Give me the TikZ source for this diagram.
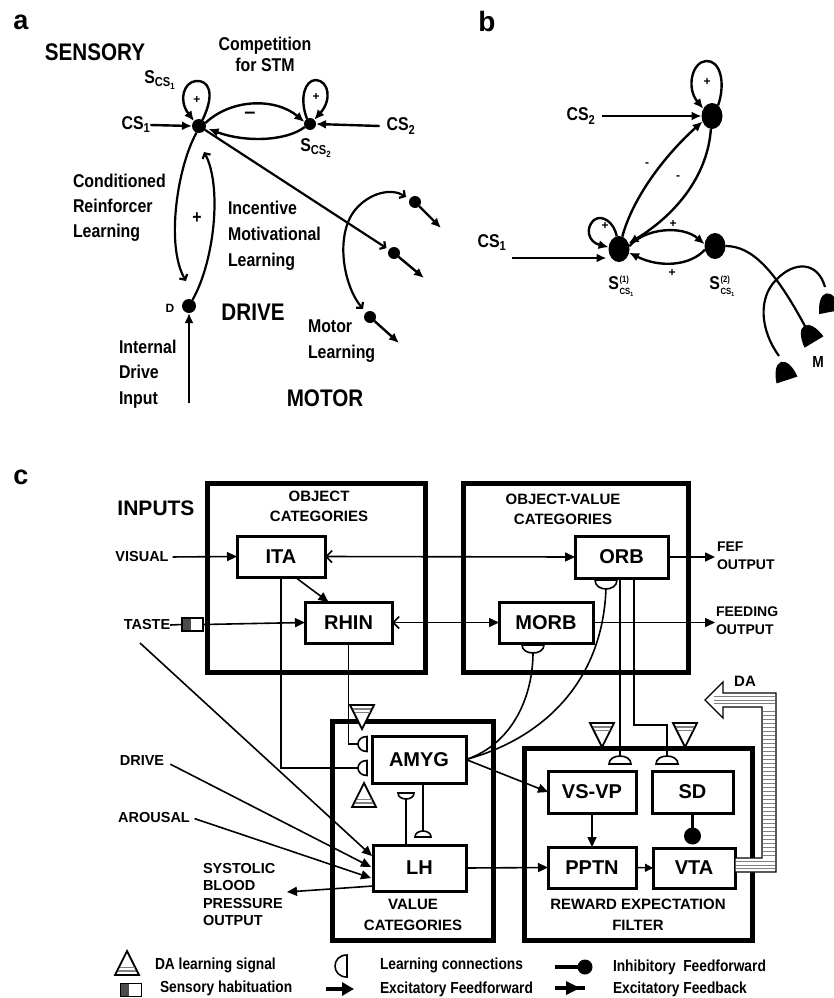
\documentclass[tikz,border=0pt]{standalone}
\usepackage{fontspec}
\setmainfont{Liberation Sans}
\newfontfamily\nar[FakeStretch=0.86]{Liberation Sans}
\usetikzlibrary{arrows.meta,calc,shapes.geometric}
\newcommand\lcup[5]{\draw[line width=1.6pt,fill=white,shift={(#1,#2)},rotate=#3] (-#4,0) .. controls (-#4,1.33*#5) and (#4,1.33*#5) .. (#4,0) -- cycle;}
\newcommand\datri[3]{%
  \draw[line width=1.8pt,line join=miter,fill=white] ({#1-12},{#2-24*(#3)}) -- ({#1+12},{#2-24*(#3)}) -- (#1,#2) -- cycle;
  \draw[gray,line width=1.3pt] ({#1-9},{#2-20*(#3)}) -- ({#1+9},{#2-20*(#3)});
  \draw[gray,line width=1.3pt] ({#1-7.5},{#2-16.5*(#3)}) -- ({#1+7.5},{#2-16.5*(#3)});}
\newcommand\term[3]{\fill[shift={(#1,#2)},rotate=#3] (-11,0) .. controls (-10,-10) and (-6,-19) .. (0,-19) .. controls (6,-19) and (10,-10) .. (11,0) -- cycle;}
\newcommand\Ssub[1]{S\textsubscript{CS\textsubscript{#1}}}
\newcommand\Sboth[1]{S\kern.5pt{\fontsize{9}{9}\selectfont\rlap{\raisebox{7.5pt}{(#1)}}\raisebox{-5pt}{CS\textsubscript{1}}}}
\begin{document}
\begin{tikzpicture}[x=1pt,y=-1pt,
  every node/.style={inner sep=0pt,outer sep=0pt},
  ta/.style={font=\nar\fontsize{18.5}{25}\selectfont\bfseries},
  tsm/.style={font=\fontsize{12}{12}\selectfont\bfseries},
  tbig/.style={font=\nar\fontsize{24}{24}\selectfont\bfseries},
  tpanel/.style={font=\fontsize{27}{27}\selectfont\bfseries},
  tin/.style={font=\fontsize{14.5}{17.6}\selectfont\bfseries},
  ttl/.style={font=\fontsize{15}{20.5}\selectfont\bfseries,align=center},
  cbox/.style={draw,line width=3pt,font=\fontsize{20}{20}\selectfont\bfseries},
  obox/.style={draw,line width=5pt},
  leg/.style={font=\nar\fontsize{16}{16}\selectfont\bfseries,anchor=west},
  dot/.style={circle,fill=black,minimum size=#1},
  bdot/.style={ellipse,fill=black,minimum width=21pt,minimum height=26pt},
  aln/.style={line width=2.4pt,-{Latex[length=10pt,width=9pt]}},
  lrn/.style={line width=2.2pt,-{Straight Barb[length=4pt,width=9pt]}},
  ff/.style={line width=1.6pt,-{Triangle[length=10pt,width=9pt]}},
  cl/.style={line width=1.6pt},
  fbb/.style={line width=1.6pt,{Straight Barb[length=6pt,width=12pt]}-{Triangle[length=10pt,width=9pt]}}]
\useasboundingbox (0,0) rectangle (833,998);

% ---------------- panel a ----------------
\node[tpanel] (pa) at (21,22) {a};
\node[tbig] (sensory) at (95,52) {SENSORY};
\node[ta,align=center,font=\nar\fontsize{18.5}{21}\selectfont\bfseries] (comp) at (265,54) {Competition\\for STM};
\node[ta] (scs1) at (160,80) {\Ssub{1}};
\node[ta] (scs2) at (316,148) {\Ssub{2}};
\node[ta] (cs1a) at (136,125) {CS\textsubscript{1}};
\node[ta] (cs2a) at (401,126) {CS\textsubscript{2}};
\node[dot=14pt] (n1) at (199,126) {};
\node[dot=12pt] (n2) at (310,124) {};
\node[dot=14pt] (D) at (189,306) {};
\node[dot=12pt] (m1) at (415,202) {};
\node[dot=12pt] (m2) at (394,253) {};
\node[dot=12pt] (m3) at (370,317) {};
\node[tsm] (pl1) at (197,100) {+};
\node[tsm] (pl2) at (316,97) {+};
\node[font=\fontsize{20}{20}\selectfont\bfseries] (mi) at (250,115) {–};
\node[ta] (pl3) at (197,218) {+};
\node[ta,align=left,anchor=west] (crl) at (73,208) {Conditioned\\Reinforcer\\Learning};
\node[ta,align=left,anchor=west,font=\nar\fontsize{18.5}{26}\selectfont\bfseries] (iml) at (228,236) {Incentive\\Motivational\\Learning};
\node[ta,align=left,anchor=west,font=\nar\fontsize{18.5}{25.5}\selectfont\bfseries] (idi) at (119,374) {Internal\\Drive\\Input};
\node[ta,align=left,anchor=west,font=\nar\fontsize{18.5}{26}\selectfont\bfseries] (mol) at (308,341) {Motor\\Learning};
\node[tsm] (Dl) at (170,308) {D};
\node[tbig] (drv) at (253,312) {DRIVE};
\node[tbig] (mot) at (325,398) {MOTOR};

\coordinate (m1o) at (441,228);
\coordinate (m2o) at (424,278);
\coordinate (m3o) at (399,343);
\coordinate (marcA) at (363,309);
\coordinate (marcB) at (406,197);
\coordinate (crEnd) at (186,281);
\coordinate (imEnd) at (204,152);
\coordinate (idIn) at (189,403);

\draw[aln] (cs1a.east) -- (n1.west);
\draw[aln] ($(cs2a.west)+(-7,0)$) -- (n2.east);
\draw[aln] (n1.60) .. controls (216,92) and (208,80) .. (196,81) .. controls (184,82) and (178,100) .. (n1.135);
\draw[aln] (n2.120) .. controls (299,98) and (305,80) .. (316,80) .. controls (329,81) and (332,100) .. (n2.45);
\draw[aln] (n1.25) .. controls (232,98) and (276,98) .. (n2.160);
\draw[aln,shorten >=3pt] (n2.210) .. controls (285,142) and (243,142) .. (n1.-15);
\draw[lrn] (n1) -- ($(m2)!9pt!(n1)$);
\draw[aln] (m2) -- (m2o);
\draw[aln] (m1) -- (m1o);
\draw[aln] (m3) -- (m3o);
\draw[line width=2.2pt,{Straight Barb[length=4pt,width=9pt]}-{Straight Barb[length=4pt,width=9pt]}] (marcA) .. controls (343,285) and (335,235) .. (355,210) .. controls (370,192) and (392,188) .. (marcB);
\draw[lrn] (n1.250) .. controls (178,165) and (165,245) .. (crEnd);
\draw[lrn] (D.60) .. controls (215,260) and (222,185) .. (imEnd);
\draw[aln] (idIn) -- (D.south);

% ---------------- panel b ----------------
\node[tpanel,font=\fontsize{28}{28}\selectfont\bfseries] (pb) at (487,21) {b};
\node[bdot] (T) at (712,116) {};
\node[bdot] (S1) at (619,249) {};
\node[bdot] (S2) at (715,246) {};
\node[ta] (cs2b) at (581,116) {CS\textsubscript{2}};
\node[ta] (cs1b) at (492,243) {CS\textsubscript{1}};
\node[ta] (s1l) at (621,286) {\Sboth{1}};
\node[ta] (s2l) at (722,286) {\Sboth{2}};
\node[font=\nar\fontsize{16}{16}\selectfont\bfseries] (Ml) at (818,362) {M};
\node[tsm] (bp1) at (707,82) {+};
\node[tsm] (bp2) at (605,226) {+};
\node[tsm] (bm1) at (647,165) {-};
\node[tsm] (bm2) at (678,178) {-};
\node[tsm] (bp3) at (673,224) {+};
\node[tsm] (bp4) at (672,273) {+};
\coordinate (cs1bs) at (512,258);
\draw[aln] ($(cs2b.east)+(7,0)$) -- (T.west);
\draw[aln] (cs1bs) -- ($(S1.west)+(-2,9)$);
\draw[aln] (T.60) .. controls (726,82) and (720,60) .. (706,61) .. controls (692,62) and (686,88) .. (T.140);
\draw[aln] (S1.100) .. controls (614,222) and (602,214) .. (594,220) .. controls (585,228) and (588,242) .. (S1.170);
\draw[aln] (S1.75) .. controls (632,200) and (662,158) .. (T.210);
\draw[aln] (T.265) .. controls (708,172) and (680,212) .. (S1.30);
\draw[aln] (S1.15) .. controls (645,228) and (682,225) .. (S2.170);
\draw[aln] (S2.200) .. controls (690,266) and (660,268) .. (S1.-20);
\coordinate (t1) at (806,328);
\coordinate (t2) at (779,356);
\coordinate (t3) at (825,287);
\draw[line width=2.2pt] (S2.east) .. controls (752,246) and (775,270) .. (t1);
\draw[line width=2.2pt] (t2) .. controls (760,330) and (758,298) .. (776,280) .. controls (795,260) and (818,262) .. (t3);
\term{814}{342}{31}
\term{787}{380}{18}
\term{830}{312}{11}

% ---------------- panel c ----------------
\node[tpanel] (pc) at (21,477) {c};
\node[font=\fontsize{21}{21}\selectfont\bfseries] (inputs) at (156,508) {INPUTS};
\node[obox,minimum width=218pt,minimum height=189pt] (objbox) at (316,577.5) {};
\node[obox,minimum width=225pt,minimum height=189pt] (ovbox) at (575.5,577.5) {};
\node[obox,minimum width=161pt,minimum height=219pt] (valbox) at (412.5,830.5) {};
\node[obox,minimum width=228pt,minimum height=192pt] (rewbox) at (638,844) {};
\node[ttl] (objt) at (319,506.5) {OBJECT\\CATEGORIES};
\node[ttl,font=\fontsize{15}{20}\selectfont\bfseries] (ovt) at (563,509) {OBJECT-VALUE\\CATEGORIES};
\node[ttl] (valt) at (413,915) {VALUE\\CATEGORIES};
\node[ttl] (rewt) at (638,915) {REWARD EXPECTATION\\FILTER};
\node[cbox,minimum width=88pt,minimum height=41pt] (ITA) at (281,556.5) {ITA};
\node[cbox,minimum width=87pt,minimum height=41pt] (RHIN) at (348.5,622.5) {RHIN};
\node[cbox,minimum width=93pt,minimum height=42pt] (ORB) at (621.5,557) {ORB};
\node[cbox,minimum width=94pt,minimum height=41pt] (MORB) at (546,622.5) {MORB};
\node[cbox,minimum width=94pt,minimum height=47pt] (AMYG) at (419,759.5) {AMYG};
\node[cbox,minimum width=93pt,minimum height=46pt] (LH) at (419.5,868) {LH};
\node[cbox,minimum width=88pt,minimum height=42pt] (VSVP) at (592,792) {VS-VP};
\node[cbox,minimum width=81pt,minimum height=42pt] (SD) at (692.5,792) {SD};
\node[cbox,minimum width=88pt,minimum height=41pt] (PPTN) at (592,867.5) {PPTN};
\node[cbox,minimum width=82pt,minimum height=40pt] (VTA) at (694,868) {VTA};

\node[tin] (visual) at (142,557) {VISUAL};
\node[tin] (taste) at (147,625) {TASTE};
\node[tin] (drive) at (142,761) {DRIVE};
\node[tin] (arousal) at (154,817) {AROUSAL};
\node[tin,align=left,anchor=west] (sbp) at (203,894.5) {SYSTOLIC\\BLOOD\\PRESSURE\\OUTPUT};
\node[tin,align=left,anchor=west,font=\fontsize{14}{18}\selectfont\bfseries] (fef) at (717,556) {FEF\\OUTPUT};
\node[tin,align=left,anchor=west,font=\fontsize{14}{18}\selectfont\bfseries] (feed) at (716,621) {FEEDING\\OUTPUT};
\node[font=\fontsize{15}{15}\selectfont\bfseries] (da) at (745,681) {DA};
\node[draw,line width=1.3pt,minimum width=21pt,minimum height=13pt,path picture={\fill[black!70] (path picture bounding box.north west) rectangle ($(path picture bounding box.south)+(-2,0)$);}] (hab) at (192.5,624.5) {};

\coordinate (fefin) at (715,557);
\coordinate (feedin) at (715,622.5);
\coordinate (tasteD) at (140,643);
\coordinate (sbpout) at (287,892);

\draw[ff,shorten <=4pt] (visual.east) -- (ITA.west);
\draw[cl] (taste.east) -- (hab.west);
\draw[ff] (hab.east) -- (RHIN.west);
\draw[fbb] (ITA.east) -- (ORB.west);
\draw[fbb] (RHIN.east) -- (MORB.west);
\draw[ff] ($(ITA.south)+(14,0)$) -- ($(RHIN.north)+(-20,0)$);
\draw[ff] (ORB.east) -- (fefin);
\draw[ff] (MORB.east) -- (feedin);
\draw[cl] (RHIN.south) |- (358,744);
\draw[cl] (ITA.south) |- (358,768);
\draw[cl] ($(ORB.south)+(-1.5,0)$) -- (620,756);
\draw[cl] ($(ORB.south)+(12.5,0)$) |- (667,725) -- (667,756);
\draw[cl] (AMYG.east) .. controls (510,745) and (533,700) .. (533,652);
\draw[cl] (AMYG.east) .. controls (545,738) and (603,680) .. (606,588);
\draw[ff] (AMYG.east) -- (VSVP.west);
\draw[cl] ($(LH.north)+(-13.5,0)$) -- (406,799);
\draw[cl] ($(AMYG.south)+(4,0)$) -- (423,831);
\lcup{367}{744}{-90}{7.5}{9}
\lcup{367}{768}{-90}{7.5}{9}
\lcup{606}{580}{0}{11}{9}
\lcup{533}{645}{0}{11}{8}
\lcup{620}{764}{180}{11}{8}
\lcup{667}{764}{180}{11}{8}
\lcup{406}{793}{0}{8}{6}
\lcup{423}{837}{180}{8}{6}
\datri{362}{729}{1}
\datri{364}{783}{-1}
\datri{602}{747}{1}
\datri{685}{747}{1}

\draw[ff] (tasteD) -- ($(LH.west)+(-1,-12)$);
\draw[ff,shorten <=7pt] (drive.east) -- ($(LH.west)+(-2,-1)$);
\draw[ff,shorten <=5pt] (arousal.east) -- ($(LH.west)+(-2,10)$);
\draw[ff] ($(LH.west)+(0,18)$) -- (sbpout);

\draw[ff] (VSVP.south) -- (PPTN.north);
\node[dot=17pt] (inh) at (692.5,836) {};
\draw[line width=2.2pt] (SD.south) -- (inh);
\draw[line width=1.4pt,-{Triangle[length=8pt,width=8pt]}] (PPTN.east) -- (VTA.west);
\draw[ff] (LH.east) -- (PPTN.west);

% DA arrow
\draw[line width=1.3pt,fill=white,line join=miter] (705,700) -- (723,682) -- (723,693) -- (776,693) -- (776,872) -- (735,872) -- (735,858) -- (762,858) -- (762,707) -- (723,707) -- (723,718) -- cycle;
\foreach \yy in {711,715,...,855} \draw[gray,line width=0.9pt] (762.6,\yy) -- (775.4,\yy);
\foreach \yy in {696.5,700,703.5} \draw[gray,line width=0.9pt] (714,\yy) -- (775.4,\yy);
\foreach \yy in {861.5,865,868.5} \draw[gray,line width=0.9pt] (735.6,\yy) -- (775.4,\yy);

% legend
\datri{127}{951}{-1}
\node[leg] (l1) at (155,965) {DA learning signal};
\lcup{347}{966}{-90}{11}{12}
\node[leg] (l2) at (380,965) {Learning connections};
\node[dot=15pt] (ldot) at (585,967) {};
\coordinate (linh) at (555,967);
\draw[line width=4pt] (linh) -- (ldot);
\node[leg] (l3) at (613,967) {Inhibitory\ \ Feedforward};
\node[draw,line width=1.3pt,minimum width=21pt,minimum height=13pt,path picture={\fill[black!70] (path picture bounding box.north west) rectangle ($(path picture bounding box.south)+(-2,0)$);}] (lhab) at (131,990) {};
\node[leg] (l4) at (160,988) {Sensory habituation};
\coordinate (lffa) at (326,989);
\coordinate (lffb) at (354,989);
\draw[line width=4.5pt,-{Triangle[length=12pt,width=13pt]}] (lffa) -- (lffb);
\node[leg] (l5) at (380,989) {Excitatory Feedforward};
\coordinate (lfba) at (555,988);
\coordinate (lfbb) at (585,988);
\draw[line width=3.5pt] (lfba) -- (lfbb);
\fill (566,981) -- (580,988) -- (566,995) -- cycle;
\node[leg] (l6) at (613,989) {Excitatory Feedback};
\end{tikzpicture}
\end{document}
